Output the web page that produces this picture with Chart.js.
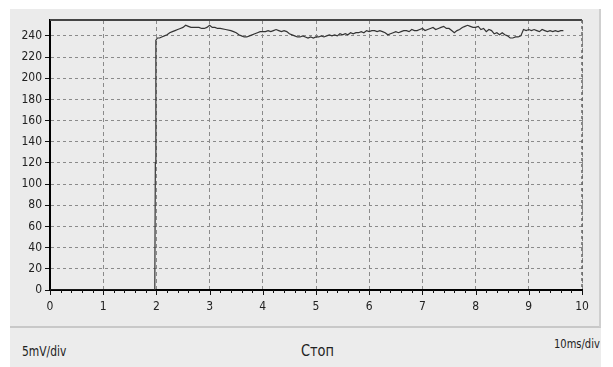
<!DOCTYPE html>
<html>
<head>
<meta charset="utf-8">
<script src="https://cdn.jsdelivr.net/npm/chart.js@4.4.1/dist/chart.umd.min.js"></script>
<style>
  body { margin: 0; background: #ffffff; font-family: "DejaVu Sans", sans-serif; font-stretch: condensed; }
  #panel { position: absolute; left: 10px; top: 9px; width: 589px; height: 317px; background: #ebebeb; border-right: 2px solid #cfcfcf; border-bottom: 2px solid #c8c8c8; }
  #footer { position: absolute; left: 10px; top: 328px; width: 591px; height: 39px; background: #ececec; }
  #wrap { position: absolute; left: 0; top: 0; width: 613px; height: 325px; }
  .lbl { position: absolute; color: #222; white-space: nowrap; transform-origin: 0 0; }
</style>
</head>
<body>
<div id="panel"></div>
<div id="footer"></div>
<div id="wrap"><canvas id="scope"></canvas></div>
<div class="lbl" style="left:22px; top:343px; font-size:14px; transform: scaleX(0.85);">5mV/div</div>
<div class="lbl" style="left:301px; top:341px; font-size:16px; transform: scaleX(0.9);">Стоп</div>
<div class="lbl" style="left:554px; top:336px; font-size:13px; transform: scaleX(0.85);">10ms/div</div>
<script>
// Данные осциллограммы (деления по X, значения по Y)
const timeDiv = [0, 1.97, 1.98, 1.99, 2.02, 2.06, 2.1, 2.15, 2.2, 2.25, 2.3, 2.35, 2.4, 2.45, 2.5, 2.55, 2.6, 2.65, 2.7, 2.75, 2.8, 2.85, 2.9, 2.95, 3.0, 3.05, 3.1, 3.15, 3.2, 3.3, 3.4, 3.45, 3.5, 3.55, 3.6, 3.65, 3.7, 3.75, 3.8, 3.85, 3.9, 3.95, 4.0, 4.05, 4.1, 4.15, 4.2, 4.25, 4.3, 4.35, 4.4, 4.45, 4.5, 4.55, 4.6, 4.65, 4.7, 4.75, 4.8, 4.85, 4.9, 4.95, 5.0, 5.05, 5.1, 5.15, 5.2, 5.25, 5.3, 5.35, 5.4, 5.45, 5.5, 5.55, 5.6, 5.65, 5.7, 5.75, 5.8, 5.85, 5.9, 5.95, 6.0, 6.05, 6.1, 6.15, 6.2, 6.25, 6.3, 6.35, 6.4, 6.45, 6.5, 6.55, 6.6, 6.65, 6.7, 6.75, 6.8, 6.85, 6.9, 6.95, 7.0, 7.05, 7.1, 7.15, 7.2, 7.25, 7.3, 7.35, 7.4, 7.45, 7.5, 7.55, 7.6, 7.65, 7.7, 7.75, 7.8, 7.85, 7.9, 7.95, 8.0, 8.05, 8.1, 8.15, 8.2, 8.25, 8.3, 8.35, 8.4, 8.45, 8.5, 8.55, 8.6, 8.65, 8.7, 8.75, 8.8, 8.85, 8.9, 8.95, 9.0, 9.05, 9.1, 9.15, 9.2, 9.25, 9.3, 9.35, 9.4, 9.45, 9.5, 9.55, 9.6, 9.65, 9.7];
const voltage = [0, 0, 120, 236, 238, 238, 239, 240, 241, 243, 244, 245, 246, 247, 248, 250, 249, 248, 248, 248, 248, 247, 247, 248, 250, 248, 248, 247, 247, 246, 245, 244, 243, 241, 240, 239, 239, 240, 241, 242, 243, 244, 244, 244, 245, 244, 245, 246, 245, 244, 245, 244, 242, 241, 240, 239, 239, 240, 239, 238, 239, 238, 239, 239, 240, 239, 240, 241, 240, 241, 240, 242, 241, 242, 241, 243, 242, 243, 243, 244, 243, 245, 244, 245, 245, 244, 245, 244, 243, 241, 242, 243, 244, 243, 244, 245, 245, 244, 246, 245, 245, 246, 247, 245, 246, 247, 248, 246, 247, 248, 249, 247, 247, 245, 243, 245, 246, 248, 249, 250, 249, 248, 248, 249, 246, 247, 244, 246, 245, 242, 243, 241, 243, 241, 240, 238, 238, 239, 239, 240, 246, 245, 246, 245, 246, 245, 244, 246, 245, 244, 245, 244, 245, 244, 245, 245];
const xTicks = [0, 1, 2, 3, 4, 5, 6, 7, 8, 9, 10];
const yTicks = [0, 20, 40, 60, 80, 100, 120, 140, 160, 180, 200, 220, 240];

// "condensed" попадает в строку шрифта canvas как font-stretch
const tickFont = { family: "'DejaVu Sans', sans-serif", size: 12, weight: 'condensed' };

// Рамка сверху/справа и мелкие деления по оси X
const scopeFrame = {
  id: 'scopeFrame',
  afterDraw(chart) {
    const { ctx, chartArea: a, scales } = chart;
    ctx.save();
    ctx.strokeStyle = '#444';
    ctx.lineWidth = 2;
    ctx.beginPath();
    ctx.moveTo(a.left, a.top);
    ctx.lineTo(a.right, a.top);
    ctx.stroke();
    ctx.strokeStyle = '#666';
    ctx.lineWidth = 1.5;
    ctx.setLineDash([3, 3]);
    ctx.beginPath();
    ctx.moveTo(a.right, a.top);
    ctx.lineTo(a.right, a.bottom);
    ctx.stroke();
    ctx.setLineDash([]);
    ctx.strokeStyle = '#111';
    ctx.lineWidth = 1;
    for (let i = 0; i <= 50; i++) {
      const px = Math.round(scales.x.getPixelForValue(i / 5)) + 0.5;
      ctx.beginPath();
      ctx.moveTo(px, a.bottom);
      ctx.lineTo(px, a.bottom + (i % 5 === 0 ? 5 : 3));
      ctx.stroke();
    }
    ctx.restore();
  }
};

new Chart(document.getElementById('scope'), {
  type: 'scatter',
  data: {
    datasets: [{
      data: timeDiv.map((t, i) => ({ x: t, y: voltage[i] })),
      showLine: true,
      borderColor: '#333',
      borderWidth: 1.2,
      pointRadius: 0,
      tension: 0
    }]
  },
  options: {
    responsive: true,
    maintainAspectRatio: false,
    animation: false,
    layout: { padding: { top: 20, right: 31, left: 0, bottom: 0 } },
    plugins: { legend: { display: false }, tooltip: { enabled: false } },
    scales: {
      x: {
        type: 'linear',
        min: 0,
        max: 10,
        afterBuildTicks: (s) => { s.ticks = xTicks.map(v => ({ value: v })); },
        afterFit: (s) => { s.height = 35; },
        ticks: { color: '#222', font: tickFont, padding: 10, maxRotation: 0 },
        grid: { color: '#8a8a8a', lineWidth: 1, drawTicks: false },
        // в v4 border.dash задаёт пунктир линий сетки, сама ось остаётся сплошной
        border: { color: '#000', width: 2, dash: [4, 3] }
      },
      y: {
        min: 0,
        max: 255,
        afterBuildTicks: (s) => { s.ticks = yTicks.map(v => ({ value: v })); },
        afterFit: (s) => { s.width = 50; },
        ticks: { color: '#222', font: tickFont, padding: 3 },
        grid: { color: '#8a8a8a', lineWidth: 1, tickLength: 5, tickColor: '#111', tickBorderDash: [], drawTicks: true },
        border: { color: '#000', width: 2, dash: [3, 3] }
      }
    }
  },
  plugins: [scopeFrame]
});
</script>
</body>
</html>
